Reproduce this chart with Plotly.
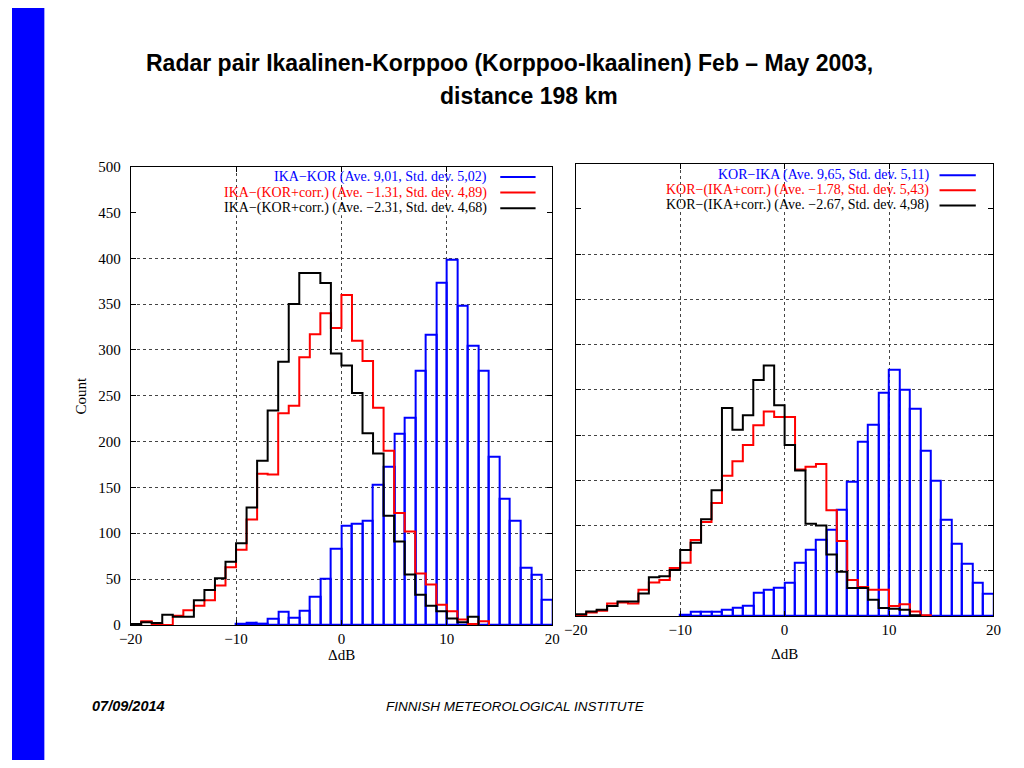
import plotly.graph_objects as go

# ---------------- data (1 dB bins, value = count in [start+i, start+i+1)) ----------------
bin_width = 1

left_blue_start = -10
left_blue = [1, 3, 1, 7, 14, 8, 16, 31, 51, 83,
             108, 110, 114, 153, 173, 209, 226, 277, 317, 373,
             399, 348, 305, 277, 184, 138, 114, 63, 55, 28]

left_red_start = -20
left_red = [0, 4, 1, 0, 10, 16, 21, 27, 43, 63,
            82, 115, 165, 164, 231, 239, 292, 317, 340, 324,
            360, 310, 288, 237, 190, 122, 102, 56, 44, 22,
            15, 6, 1, 4]

left_black_start = -20
left_black = [1, 3, 2, 11, 9, 9, 27, 38, 51, 69,
              89, 128, 179, 234, 287, 350, 384, 384, 373, 296,
              283, 253, 209, 187, 119, 91, 55, 33, 21, 15,
              7, 3, 9]

right_blue_start = -10
right_blue = [2, 5, 5, 5, 7, 9, 12, 26, 29, 31,
              37, 59, 73, 84, 95, 118, 148, 193, 211, 247,
              272, 250, 229, 183, 150, 107, 80, 58, 37, 25]

right_red_start = -20
right_red = [1, 4, 6, 14, 15, 14, 29, 37, 40, 53,
             59, 84, 104, 125, 155, 171, 189, 211, 226, 220,
             220, 162, 165, 168, 117, 83, 40, 32, 29, 29,
             11, 13, 5, 1]

right_black_start = -20
right_black = [2, 5, 7, 11, 16, 16, 25, 43, 44, 51,
               73, 81, 107, 139, 230, 206, 222, 261, 277, 233,
               189, 161, 102, 100, 68, 49, 31, 31, 18, 9,
               8, 7, 1]

left_labels = ["IKA\u2212KOR (Ave. 9,01, Std. dev. 5,02)",
               "IKA\u2212(KOR+corr.) (Ave. \u22121.31, Std. dev. 4,89)",
               "IKA\u2212(KOR+corr.) (Ave. \u22122.31, Std. dev. 4,68)"]
right_labels = ["KOR\u2212IKA (Ave. 9,65, Std. dev. 5,11)",
                "KOR\u2212(IKA+corr.) (Ave. \u22121.78, Std. dev. 5,43)",
                "KOR\u2212(IKA+corr.) (Ave. \u22122.67, Std. dev. 4,98)"]

x_ticks = [-20, -10, 0, 10, 20]
y_ticks = [0, 50, 100, 150, 200, 250, 300, 350, 400, 450, 500]

title_lines = ["Radar pair Ikaalinen-Korppoo (Korppoo-Ikaalinen) Feb \u2013 May 2003,",
               "distance 198 km"]
footer_date = "07/09/2014"
footer_org = "FINNISH METEOROLOGICAL INSTITUTE"
x_title = "\u0394dB"
y_title = "Count"

BLUE = "#0000ff"
RED = "#ff0000"
BLACK = "#000000"
SERIF = "Liberation Serif, Times New Roman, serif"
SANS = "Liberation Sans, Arial, sans-serif"

W, H = 1024, 768


def px(x):
    return x / W


def py(y):
    return 1 - y / H


def bar_trace(start, vals, color, xa, ya):
    centers = [start + (i + 0.5) * bin_width for i in range(len(vals))]
    return go.Bar(x=centers, y=vals, width=bin_width,
                  marker=dict(color="rgba(0,0,0,0)", line=dict(color=color, width=2)),
                  xaxis=xa, yaxis=ya, showlegend=False, hoverinfo="x+y")


def step_trace(start, vals, color, xa, ya):
    xs = [start + i * bin_width for i in range(len(vals) + 1)]
    ys = list(vals) + [0]
    return go.Scatter(x=xs, y=ys, mode="lines", line=dict(color=color, width=2, shape="hv"),
                      xaxis=xa, yaxis=ya, showlegend=False)


fig = go.Figure()
fig.add_trace(bar_trace(left_blue_start, left_blue, BLUE, "x", "y"))
fig.add_trace(step_trace(left_red_start, left_red, RED, "x", "y"))
fig.add_trace(step_trace(left_black_start, left_black, BLACK, "x", "y"))
fig.add_trace(bar_trace(right_blue_start, right_blue, BLUE, "x2", "y2"))
fig.add_trace(step_trace(right_red_start, right_red, RED, "x2", "y2"))
fig.add_trace(step_trace(right_black_start, right_black, BLACK, "x2", "y2"))

axis_common = dict(
    showline=True, linecolor="black", linewidth=1, mirror="ticks",
    ticks="inside", ticklen=5, tickcolor="black", tickwidth=1,
    showgrid=True, gridcolor="#444444", griddash="dot", gridwidth=1,
    zeroline=False, tickfont=dict(family=SERIF, size=15, color="black"),
)

fig.update_layout(
    autosize=True,
    margin=dict(l=0, r=0, t=0, b=0),
    paper_bgcolor="white", plot_bgcolor="white",
    barmode="overlay", bargap=0,
    showlegend=False,
    xaxis=dict(domain=[px(121), px(551)], range=[-20, 20], tickvals=x_ticks,
               anchor="y", **axis_common),
    yaxis=dict(domain=[py(630), py(162)], range=[0, 500], tickvals=y_ticks,
               anchor="x", ticklabelstandoff=6, **axis_common),
    xaxis2=dict(domain=[px(575), px(1001)], range=[-20, 20], tickvals=x_ticks,
                anchor="y2", **axis_common),
    yaxis2=dict(domain=[py(621), py(159)], range=[0, 500], tickvals=y_ticks,
                anchor="x2", showticklabels=False, **axis_common),
)

shapes = []
# blue band on the left of the slide
shapes.append(dict(type="rect", xref="paper", yref="paper", x0=0, x1=px(33), y0=0, y1=1,
                   fillcolor=BLUE, line=dict(width=0), layer="below"))
# legend-area mask over the 450 grid line (as in the original plots)
for xa, ya in (("x", "y"), ("x2", "y2")):
    shapes.append(dict(type="rect", xref=xa, yref=ya, x0=-19.6, x1=19.6, y0=447, y1=453,
                       fillcolor="white", line=dict(width=0), layer="between"))

annotations = []
legend_rows_left = [172.7, 188.5, 204.5]
legend_rows_right = [170.7, 186.2, 201.7]
colors = [BLUE, RED, BLACK]
for labels, rows, text_right, l0, l1 in ((left_labels, legend_rows_left, 487, 498, 534),
                                        (right_labels, legend_rows_right, 937, 946, 983)):
    for lab, yy, c in zip(labels, rows, colors):
        annotations.append(dict(text=lab, x=px(text_right), y=py(yy), xref="paper", yref="paper",
                                xanchor="right", yanchor="middle", showarrow=False,
                                font=dict(family=SERIF, size=14, color=c)))
        shapes.append(dict(type="line", xref="paper", yref="paper", x0=px(l0), x1=px(l1),
                           y0=py(yy), y1=py(yy), line=dict(color=c, width=2)))

# axis titles
annotations.append(dict(text=y_title, x=px(70), y=py(396), xref="paper", yref="paper",
                        textangle=-90, showarrow=False, xanchor="center", yanchor="middle",
                        font=dict(family=SERIF, size=15, color="black")))
annotations.append(dict(text=x_title, x=px(336), y=py(661), xref="paper", yref="paper",
                        showarrow=False, xanchor="center", yanchor="middle",
                        font=dict(family=SERIF, size=15, color="black")))
annotations.append(dict(text=x_title, x=px(788), y=py(660), xref="paper", yref="paper",
                        showarrow=False, xanchor="center", yanchor="middle",
                        font=dict(family=SERIF, size=15, color="black")))

# slide title
annotations.append(dict(text="<b>" + title_lines[0] + "</b>", x=px(507), y=py(56),
                        xref="paper", yref="paper", showarrow=False,
                        xanchor="center", yanchor="middle",
                        font=dict(family=SANS, size=23, color="black")))
annotations.append(dict(text="<b>" + title_lines[1] + "</b>", x=px(527), y=py(90),
                        xref="paper", yref="paper", showarrow=False,
                        xanchor="center", yanchor="middle",
                        font=dict(family=SANS, size=23, color="black")))

# footer
annotations.append(dict(text="<b><i>" + footer_date + "</i></b>", x=px(80), y=py(713),
                        xref="paper", yref="paper", showarrow=False,
                        xanchor="left", yanchor="middle",
                        font=dict(family=SANS, size=14.5, color="black")))
annotations.append(dict(text="<i>" + footer_org + "</i>", x=px(514), y=py(713),
                        xref="paper", yref="paper", showarrow=False,
                        xanchor="center", yanchor="middle",
                        font=dict(family=SANS, size=13.5, color="black")))

fig.update_layout(shapes=shapes, annotations=annotations)

fig.write_html(
    "out.html",
    default_width="100vw",
    default_height="100vh",
    config={"displayModeBar": False, "responsive": True},
    post_script="document.body.style.margin='0';document.body.style.padding='0';"
                "document.body.style.overflow='hidden';"
                "document.documentElement.style.overflow='hidden';"
                "var gd=document.getElementById('{plot_id}');"
                "gd.style.width='100vw';gd.style.height='100vh';"
                "Plotly.Plots.resize(gd);",
)
